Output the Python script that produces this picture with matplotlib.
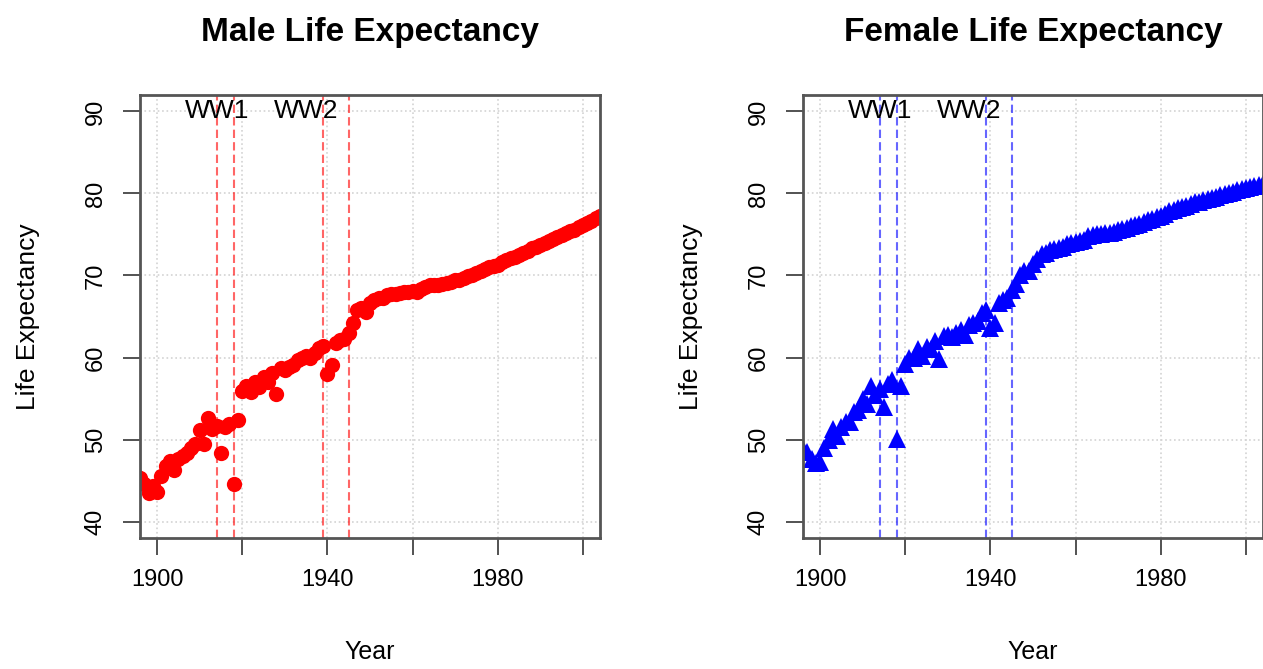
# Male / female life expectancy with war years marked

import numpy as np
import matplotlib
matplotlib.use('Agg')
import matplotlib.pyplot as plt

plt.rcParams['font.family'] = ['Liberation Sans', 'DejaVu Sans']

# data, one value per year
years = list(range(1895, 2005))
male = [45.5, 45.3, 44.6, 43.5, 44.3, 43.6, 45.5, 46.8, 47.4, 46.3,
        47.6, 48.0, 48.4, 49.0, 49.4, 51.2, 49.4, 52.6, 51.3, 51.7,
        48.4, 51.5, 51.9, 44.6, 52.4, 55.9, 56.5, 55.8, 57.0, 56.4,
        57.6, 57.0, 58.1, 55.6, 58.7, 58.5, 58.9, 59.1, 59.7, 59.9,
        60.2, 60.0, 60.6, 61.2, 61.4, 58.0, 59.1, 61.8, 62.1, 62.3,
        63.0, 64.2, 65.8, 66.0, 65.6, 66.6, 67.0, 67.2, 67.3, 67.6,
        67.7, 67.8, 67.9, 68.0, 68.0, 68.1, 68.0, 68.4, 68.6, 68.8,
        68.8, 68.9, 69.0, 69.1, 69.2, 69.4, 69.5, 69.7, 69.9, 70.1,
        70.3, 70.5, 70.8, 71.0, 71.1, 71.3, 71.6, 71.9, 72.1, 72.3,
        72.5, 72.8, 73.0, 73.3, 73.5, 73.7, 73.9, 74.2, 74.4, 74.7,
        74.9, 75.2, 75.4, 75.6, 75.9, 76.2, 76.4, 76.7, 77.0, 77.3]
female = [49.0, 48.8, 48.5, 47.6, 47.2, 47.3, 49.0, 50.0, 51.3, 50.4,
          51.5, 52.2, 52.2, 53.4, 53.6, 55.0, 54.3, 56.5, 55.4, 56.2,
          54.0, 56.8, 57.2, 50.1, 56.5, 59.2, 60.0, 59.9, 61.0, 60.2,
          61.3, 61.0, 62.0, 59.8, 62.6, 62.8, 62.5, 63.0, 63.3, 62.8,
          64.0, 64.2, 64.5, 65.4, 65.8, 63.6, 64.2, 66.6, 67.0, 67.3,
          68.2, 69.0, 70.0, 70.5, 70.6, 71.4, 72.0, 72.6, 72.8, 73.1,
          73.2, 73.4, 73.5, 73.8, 73.9, 74.1, 74.2, 74.3, 74.8, 74.9,
          75.0, 75.1, 75.2, 75.2, 75.3, 75.5, 75.7, 75.8, 76.0, 76.2,
          76.3, 76.5, 76.8, 76.9, 77.1, 77.3, 77.5, 77.8, 78.0, 78.2,
          78.3, 78.5, 78.7, 78.9, 79.0, 79.2, 79.3, 79.5, 79.6, 79.8,
          79.9, 80.1, 80.2, 80.4, 80.5, 80.7, 80.8, 80.9, 81.0, 81.2]

war_lines = [1914, 1918, 1939, 1945]
war_labels = ['WW1', 'WW2']
war_label_x = [1914, 1935]

xticks = [1900, 1920, 1940, 1960, 1980, 2000]
xticklabels = ['1900', '', '1940', '', '1980', '']
yticks = [40, 50, 60, 70, 80, 90]

fig = plt.figure(figsize=(12.63, 6.69), dpi=100)
ax1 = fig.add_axes([140/1263, 131/669, 460/1263, 443/669])
ax2 = fig.add_axes([803/1263, 131/669, 460/1263, 443/669])

panels = [(ax1, male, 'red', 'o', 11, 'Male Life Expectancy'),
          (ax2, female, 'blue', '^', 12.5, 'Female Life Expectancy')]

for ax, vals, col, mk, ms, title in panels:
    ax.set_xlim(1896, 2004)
    ax.set_ylim(38, 92)
    ax.set_xticks(xticks)
    ax.set_xticklabels(xticklabels)
    ax.set_yticks(yticks)
    ax.set_yticklabels([str(v) for v in yticks])
    ax.grid(True, color='#d3d3d3', linestyle=':', linewidth=1.2)
    ax.set_axisbelow(True)

    ax.plot(years, vals, linestyle='none', marker=mk, color=col,
            markersize=ms, markeredgewidth=0)

    for w in war_lines:
        ax.axvline(w, color=col, alpha=0.6, linestyle=(0, (4, 2)), linewidth=1.5)
    for lab, lx in zip(war_labels, war_label_x):
        ax.text(lx, 90, lab, ha='center', va='center', fontsize=19)

    ax.set_title(title, fontsize=24, fontweight='bold', pad=39)
    ax.set_xlabel('Year', fontsize=18)
    ax.set_ylabel('Life Expectancy', fontsize=19)
    ax.xaxis.set_label_coords(0.5, -0.257)
    ax.xaxis.label.set_va('center')
    ax.yaxis.set_label_coords(-0.243, 0.5)
    ax.yaxis.label.set_va('center')

    ax.tick_params(axis='both', length=12, width=1.3, color='#444444',
                   labelsize=17, direction='out')
    ax.tick_params(axis='x', pad=10)
    ax.tick_params(axis='y', pad=12, labelrotation=90)
    for lab in ax.get_yticklabels():
        lab.set_va('center')
    for sp in ax.spines.values():
        sp.set_color('#555555')
        sp.set_linewidth(2)

plt.savefig('out.png', dpi=100)
